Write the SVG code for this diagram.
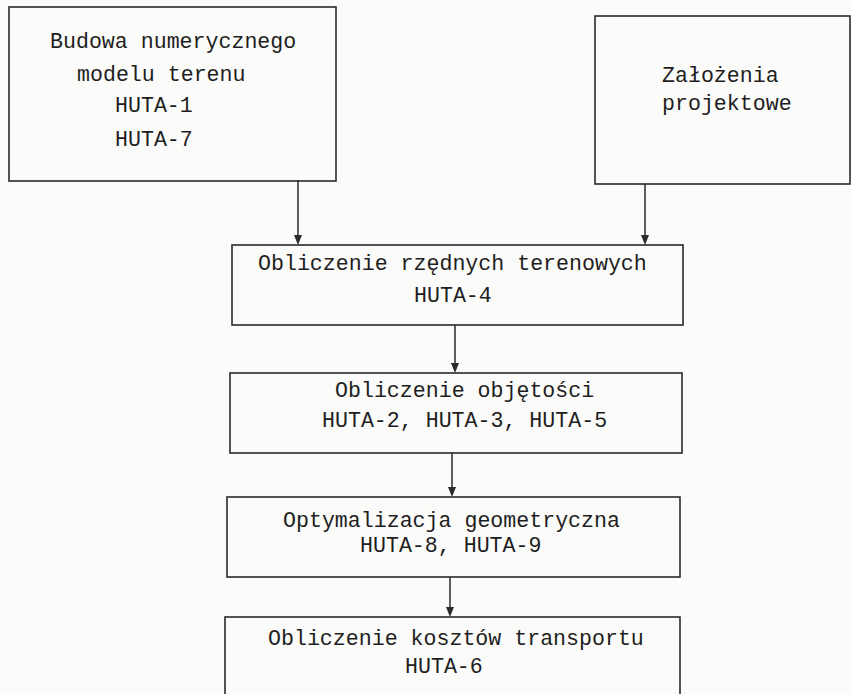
<svg xmlns="http://www.w3.org/2000/svg" width="851" height="694" viewBox="0 0 851 694">
<style>
.box{fill:none;stroke:#2a2a2a;stroke-width:1.6}
.t{font-family:"Liberation Mono","Courier New",monospace;font-size:21.6px;fill:#1e1e1e}
.c{stroke:#2a2a2a;stroke-width:1.5;fill:none}
.ah{fill:#2a2a2a}
</style>
<rect width="851" height="694" fill="#fbfbfa"/>
<g id="connectors">
<line class="c" x1="298" y1="180" x2="298" y2="240"/>
<path class="ah" d="M294,235 L302,235 L298,245 Z"/>
<line class="c" x1="645" y1="184" x2="645" y2="240"/>
<path class="ah" d="M641,235 L649,235 L645,245 Z"/>
<line class="c" x1="455" y1="325" x2="455" y2="368"/>
<path class="ah" d="M451,363 L459,363 L455,373 Z"/>
<line class="c" x1="452" y1="453" x2="452" y2="492"/>
<path class="ah" d="M448,487 L456,487 L452,497 Z"/>
<line class="c" x1="450" y1="577" x2="450" y2="612"/>
<path class="ah" d="M446,607 L454,607 L450,617 Z"/>
</g>
<g id="n1">
<rect class="box" x="9" y="7" width="327" height="174"/>
<text class="t" x="50" y="48">Budowa numerycznego</text>
<text class="t" x="77" y="81">modelu terenu</text>
<text class="t" x="115" y="112">HUTA-1</text>
<text class="t" x="115" y="146">HUTA-7</text>
</g>
<g id="n2">
<rect class="box" x="595" y="16" width="255" height="168"/>
<text class="t" x="662" y="82">Założenia</text>
<text class="t" x="662" y="110">projektowe</text>
</g>
<g id="n3">
<rect class="box" x="232" y="245" width="451" height="80"/>
<text class="t" x="258" y="270">Obliczenie rzędnych terenowych</text>
<text class="t" x="414" y="302">HUTA-4</text>
</g>
<g id="n4">
<rect class="box" x="230" y="373" width="452" height="80"/>
<text class="t" x="335" y="397">Obliczenie objętości</text>
<text class="t" x="322" y="427">HUTA-2, HUTA-3, HUTA-5</text>
</g>
<g id="n5">
<rect class="box" x="227" y="497" width="453" height="80"/>
<text class="t" x="283" y="527">Optymalizacja geometryczna</text>
<text class="t" x="360" y="552">HUTA-8, HUTA-9</text>
</g>
<g id="n6">
<rect class="box" x="225" y="617" width="455" height="90"/>
<text class="t" x="268" y="645">Obliczenie kosztów transportu</text>
<text class="t" x="405" y="673">HUTA-6</text>
</g>
</svg>
